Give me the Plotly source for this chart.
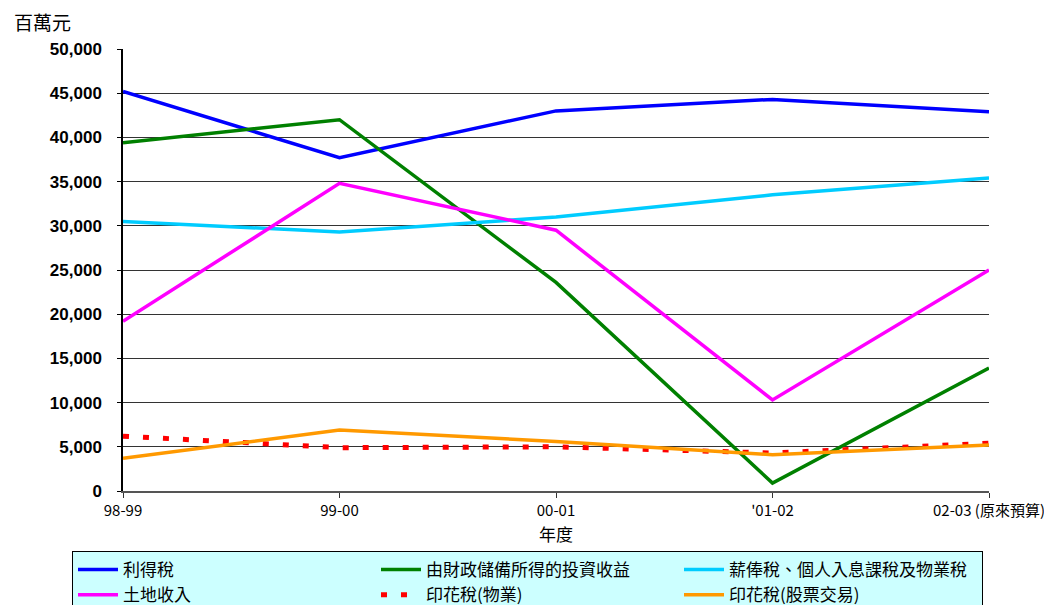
import plotly.graph_objects as go

categories = ["98-99", "99-00", "00-01", "'01-02", "02-03 (原來預算)"]
profits_tax = [45200, 37700, 43000, 44300, 42900]
investment_income = [39400, 42000, 23600, 900, 13900]
salaries_tax = [30500, 29300, 31000, 33500, 35400]
land_revenue = [19200, 34800, 29500, 10300, 25000]
stamp_property = [6200, 4900, 5000, 4300, 5400]
stamp_stock = [3700, 6900, 5600, 4100, 5200]

series_names = ["利得稅", "由財政儲備所得的投資收益", "薪俸稅、個人入息課稅及物業稅",
                "土地收入", "印花稅(物業)", "印花稅(股票交易)"]
y_ticks = [0, 5000, 10000, 15000, 20000, 25000, 30000, 35000, 40000, 45000, 50000]

CJK = "Noto Sans CJK TC, Liberation Sans, Arial, sans-serif"
NUM = "Liberation Sans, Arial, sans-serif"

xs = list(range(len(categories)))
data = [
    (profits_tax, "#0000FF", "solid"),
    (investment_income, "#008000", "solid"),
    (salaries_tax, "#00CCFF", "solid"),
    (land_revenue, "#FF00FF", "solid"),
    (stamp_property, "#FF0000", "6px,14px"),
    (stamp_stock, "#FF9900", "solid"),
]

fig = go.Figure()
for (vals, color, dash), name in zip(data, series_names):
    fig.add_trace(go.Scatter(
        x=xs, y=vals, mode="lines", name=name,
        line=dict(color=color, width=3.5 if dash == "solid" else 5, dash=dash),
    ))

# page body has an 8px margin, so the figure is offset by 8px
L, T, PW, PH = 115, 41, 866, 442
fig.update_layout(
    width=1044, height=597,
    margin=dict(l=L, r=63, t=T, b=114, autoexpand=False),
    paper_bgcolor="white", plot_bgcolor="white",
    showlegend=True,
    legend=dict(
        orientation="h", x=(64 - L) / PW, xanchor="left",
        y=(T + PH - 543) / PH, yanchor="top",
        bgcolor="#CCFFFF", bordercolor="black", borderwidth=1,
        font=dict(family=CJK, size=17, color="black"),
        entrywidth=248, entrywidthmode="pixels",
        tracegroupgap=0, itemwidth=40,
    ),
    xaxis=dict(
        range=[0, 4], tickmode="array", tickvals=xs, ticktext=categories,
        showgrid=False, zeroline=False,
        showline=True, linecolor="#555555", linewidth=1.5,
        ticks="outside", ticklen=5, tickcolor="#333333",
        tickfont=dict(family=CJK, size=15, color="black"),
        title=dict(text="年度", font=dict(family=CJK, size=17, color="black"), standoff=10),
    ),
    yaxis=dict(
        range=[0, 50000], tickmode="array", tickvals=y_ticks,
        ticktext=[f"{v:,}" for v in y_ticks],
        showgrid=True, gridcolor="#333333", gridwidth=1,
        zeroline=False, showline=True, linecolor="black", linewidth=1.5,
        ticks="outside", ticklen=4, tickcolor="black",
        ticklabelstandoff=12,
        tickfont=dict(family=NUM, size=17, color="black", weight="bold"),
    ),
    annotations=[dict(
        text="百萬元", x=(4 - L) / PW, y=(T + PH - 13) / PH,
        xref="paper", yref="paper", xanchor="left", yanchor="middle",
        showarrow=False, font=dict(family=CJK, size=19, color="black"),
    )],
)

fig.write_html("out.html")
